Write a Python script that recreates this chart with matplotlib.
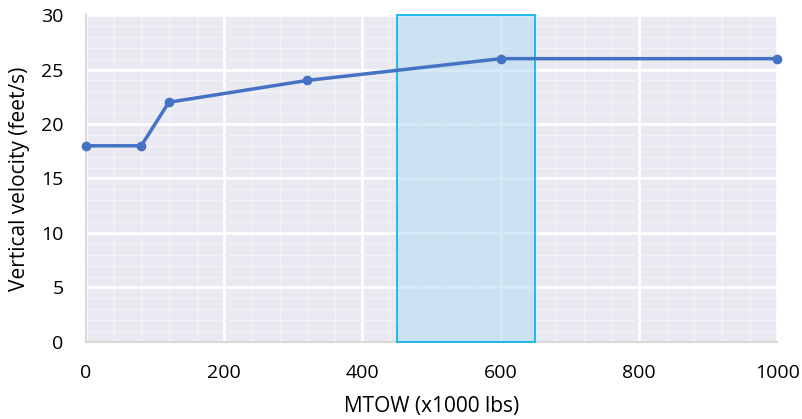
import matplotlib
matplotlib.use('Agg')
import matplotlib.pyplot as plt
from matplotlib.ticker import MultipleLocator

matplotlib.rcParams['font.family'] = 'Open Sans'
matplotlib.rcParams['font.size'] = 14

mtow = [0, 80, 120, 320, 600, 1000]
velocity = [18, 18, 22, 24, 26, 26]
band = (450, 650)

fig = plt.figure(figsize=(8.03, 4.19), dpi=100)
ax = fig.add_axes([0.107, 0.184, 0.861, 0.78])
ax.set_facecolor('#e9eaf1')

ax.axvspan(band[0], band[1], facecolor=(0.70, 0.85, 0.94, 0.55),
           edgecolor='#00b0f0', linewidth=1.2, zorder=3, clip_on=False)
ax.plot(mtow, velocity, color='#4472c4', linewidth=2.5, marker='o',
        markersize=6, zorder=4, clip_on=False)

ax.set_xlim(0, 1000)
ax.set_ylim(0, 30)
ax.set_xticks([0, 200, 400, 600, 800, 1000])
ax.set_yticks([0, 5, 10, 15, 20, 25, 30])
ax.xaxis.set_minor_locator(MultipleLocator(40))
ax.yaxis.set_minor_locator(MultipleLocator(1))
ax.grid(which='major', color='white', linewidth=2)
ax.grid(which='minor', color='#f3f3f7', linewidth=1)
ax.set_axisbelow(True)

for s in ['top', 'right']:
    ax.spines[s].set_visible(False)
for s in ['left', 'bottom']:
    ax.spines[s].set_color('#d9d9d9')
    ax.spines[s].set_linewidth(1.5)
ax.tick_params(which='both', length=0)
ax.tick_params(axis='x', pad=16)
ax.tick_params(axis='y', pad=16)

ax.set_xlabel('MTOW (x1000 lbs)', fontsize=15, labelpad=10)
ax.set_ylabel('Vertical velocity (feet/s)', fontsize=15, labelpad=8)

fig.savefig('out.png', dpi=100)
